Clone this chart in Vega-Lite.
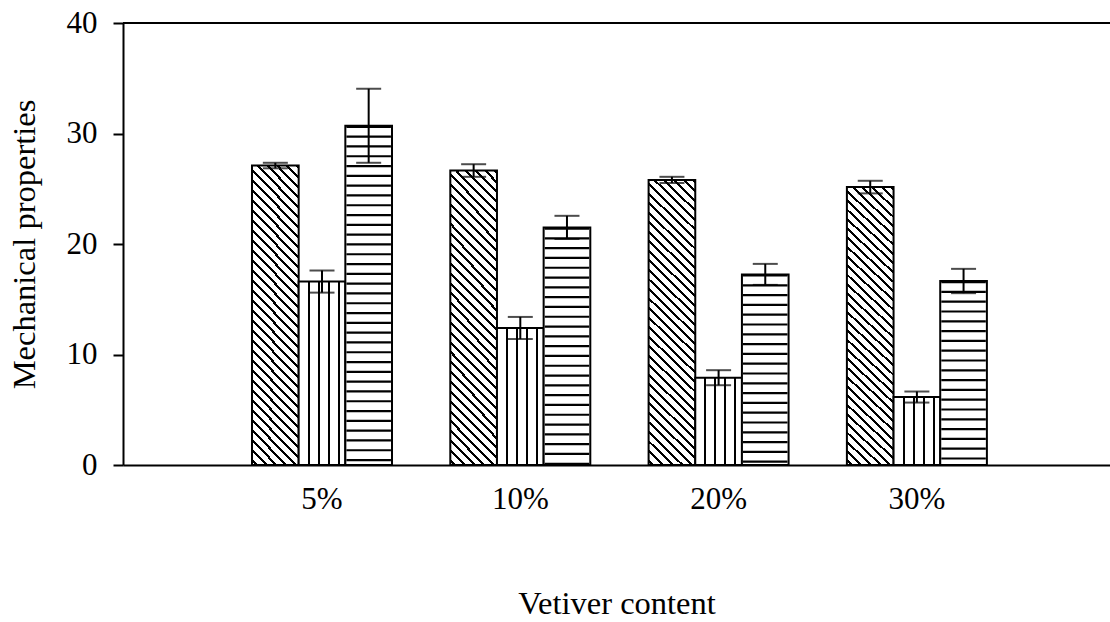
{
  "$schema": "https://vega.github.io/schema/vega-lite/v6.json",
  "width": 987,
  "height": 442,
  "autosize": {"type": "none"},
  "padding": {"left": 123, "top": 23, "right": 0, "bottom": 157},
  "background": "white",
  "config": {"view": {"stroke": null}, "font": "Liberation Serif"},
  "layer": [
    {
      "data": {
        "values": [
          {"content": "5%", "series": "s1", "value": 27.1, "lo": 26.85, "hi": 27.35},
          {"content": "5%", "series": "s2", "value": 16.6, "lo": 15.6, "hi": 17.6},
          {"content": "5%", "series": "s3", "value": 30.7, "lo": 27.35, "hi": 34.05},
          {"content": "10%", "series": "s1", "value": 26.65, "lo": 26.08, "hi": 27.22},
          {"content": "10%", "series": "s2", "value": 12.4, "lo": 11.4, "hi": 13.4},
          {"content": "10%", "series": "s3", "value": 21.5, "lo": 20.45, "hi": 22.55},
          {"content": "20%", "series": "s1", "value": 25.8, "lo": 25.52, "hi": 26.08},
          {"content": "20%", "series": "s2", "value": 7.9, "lo": 7.22, "hi": 8.58},
          {"content": "20%", "series": "s3", "value": 17.25, "lo": 16.3, "hi": 18.2},
          {"content": "30%", "series": "s1", "value": 25.15, "lo": 24.58, "hi": 25.72},
          {"content": "30%", "series": "s2", "value": 6.15, "lo": 5.65, "hi": 6.65},
          {"content": "30%", "series": "s3", "value": 16.65, "lo": 15.55, "hi": 17.75}
        ]
      },
      "encoding": {
        "x": {
          "field": "content",
          "type": "nominal",
          "sort": ["5%", "10%", "20%", "30%"],
          "scale": {"paddingInner": 0.294, "paddingOuter": 0.6357, "align": 0.5117},
          "axis": {
            "title": "Vetiver content",
            "labelAngle": 0,
            "ticks": false,
            "tickSize": 0,
            "domainColor": "black",
            "domainWidth": 2,
            "labelFont": "Liberation Serif",
            "labelFontSize": 31,
            "labelColor": "black",
            "labelPadding": 19.5,
            "titleFont": "Liberation Serif",
            "titleFontSize": 32.5,
            "titleFontWeight": "normal",
            "titleColor": "black",
            "titlePadding": 73
          }
        },
        "xOffset": {
          "field": "series",
          "type": "nominal",
          "scale": {"domain": ["s1", "s2", "s3"], "paddingInner": 0, "paddingOuter": 0}
        }
      },
      "layer": [
        {
          "transform": [{"filter": "datum.series === 's1'"}],
          "mark": {
            "type": "bar",
            "stroke": "black",
            "strokeWidth": 2,
            "fill": {
              "gradient": "linear",
              "x1": 0, "y1": 1, "x2": 0.1821, "y2": -0.1316,
              "stops": [
                {"offset": 0, "color": "#fff"},
                {"offset": 0.0100, "color": "#fff"}, {"offset": 0.0100, "color": "#000"}, {"offset": 0.0189, "color": "#000"}, {"offset": 0.0189, "color": "#fff"},
                {"offset": 0.0388, "color": "#fff"}, {"offset": 0.0388, "color": "#000"}, {"offset": 0.0477, "color": "#000"}, {"offset": 0.0477, "color": "#fff"},
                {"offset": 0.0676, "color": "#fff"}, {"offset": 0.0676, "color": "#000"}, {"offset": 0.0765, "color": "#000"}, {"offset": 0.0765, "color": "#fff"},
                {"offset": 0.0964, "color": "#fff"}, {"offset": 0.0964, "color": "#000"}, {"offset": 0.1053, "color": "#000"}, {"offset": 0.1053, "color": "#fff"},
                {"offset": 0.1252, "color": "#fff"}, {"offset": 0.1252, "color": "#000"}, {"offset": 0.1341, "color": "#000"}, {"offset": 0.1341, "color": "#fff"},
                {"offset": 0.1540, "color": "#fff"}, {"offset": 0.1540, "color": "#000"}, {"offset": 0.1629, "color": "#000"}, {"offset": 0.1629, "color": "#fff"},
                {"offset": 0.1828, "color": "#fff"}, {"offset": 0.1828, "color": "#000"}, {"offset": 0.1917, "color": "#000"}, {"offset": 0.1917, "color": "#fff"},
                {"offset": 0.2116, "color": "#fff"}, {"offset": 0.2116, "color": "#000"}, {"offset": 0.2205, "color": "#000"}, {"offset": 0.2205, "color": "#fff"},
                {"offset": 0.2404, "color": "#fff"}, {"offset": 0.2404, "color": "#000"}, {"offset": 0.2493, "color": "#000"}, {"offset": 0.2493, "color": "#fff"},
                {"offset": 0.2692, "color": "#fff"}, {"offset": 0.2692, "color": "#000"}, {"offset": 0.2781, "color": "#000"}, {"offset": 0.2781, "color": "#fff"},
                {"offset": 0.2980, "color": "#fff"}, {"offset": 0.2980, "color": "#000"}, {"offset": 0.3069, "color": "#000"}, {"offset": 0.3069, "color": "#fff"},
                {"offset": 0.3268, "color": "#fff"}, {"offset": 0.3268, "color": "#000"}, {"offset": 0.3357, "color": "#000"}, {"offset": 0.3357, "color": "#fff"},
                {"offset": 0.3556, "color": "#fff"}, {"offset": 0.3556, "color": "#000"}, {"offset": 0.3645, "color": "#000"}, {"offset": 0.3645, "color": "#fff"},
                {"offset": 0.3844, "color": "#fff"}, {"offset": 0.3844, "color": "#000"}, {"offset": 0.3933, "color": "#000"}, {"offset": 0.3933, "color": "#fff"},
                {"offset": 0.4132, "color": "#fff"}, {"offset": 0.4132, "color": "#000"}, {"offset": 0.4221, "color": "#000"}, {"offset": 0.4221, "color": "#fff"},
                {"offset": 0.4420, "color": "#fff"}, {"offset": 0.4420, "color": "#000"}, {"offset": 0.4509, "color": "#000"}, {"offset": 0.4509, "color": "#fff"},
                {"offset": 0.4708, "color": "#fff"}, {"offset": 0.4708, "color": "#000"}, {"offset": 0.4797, "color": "#000"}, {"offset": 0.4797, "color": "#fff"},
                {"offset": 0.4996, "color": "#fff"}, {"offset": 0.4996, "color": "#000"}, {"offset": 0.5085, "color": "#000"}, {"offset": 0.5085, "color": "#fff"},
                {"offset": 0.5284, "color": "#fff"}, {"offset": 0.5284, "color": "#000"}, {"offset": 0.5373, "color": "#000"}, {"offset": 0.5373, "color": "#fff"},
                {"offset": 0.5572, "color": "#fff"}, {"offset": 0.5572, "color": "#000"}, {"offset": 0.5661, "color": "#000"}, {"offset": 0.5661, "color": "#fff"},
                {"offset": 0.5860, "color": "#fff"}, {"offset": 0.5860, "color": "#000"}, {"offset": 0.5949, "color": "#000"}, {"offset": 0.5949, "color": "#fff"},
                {"offset": 0.6148, "color": "#fff"}, {"offset": 0.6148, "color": "#000"}, {"offset": 0.6237, "color": "#000"}, {"offset": 0.6237, "color": "#fff"},
                {"offset": 0.6436, "color": "#fff"}, {"offset": 0.6436, "color": "#000"}, {"offset": 0.6525, "color": "#000"}, {"offset": 0.6525, "color": "#fff"},
                {"offset": 0.6724, "color": "#fff"}, {"offset": 0.6724, "color": "#000"}, {"offset": 0.6813, "color": "#000"}, {"offset": 0.6813, "color": "#fff"},
                {"offset": 0.7012, "color": "#fff"}, {"offset": 0.7012, "color": "#000"}, {"offset": 0.7101, "color": "#000"}, {"offset": 0.7101, "color": "#fff"},
                {"offset": 0.7300, "color": "#fff"}, {"offset": 0.7300, "color": "#000"}, {"offset": 0.7389, "color": "#000"}, {"offset": 0.7389, "color": "#fff"},
                {"offset": 0.7588, "color": "#fff"}, {"offset": 0.7588, "color": "#000"}, {"offset": 0.7677, "color": "#000"}, {"offset": 0.7677, "color": "#fff"},
                {"offset": 0.7876, "color": "#fff"}, {"offset": 0.7876, "color": "#000"}, {"offset": 0.7965, "color": "#000"}, {"offset": 0.7965, "color": "#fff"},
                {"offset": 0.8164, "color": "#fff"}, {"offset": 0.8164, "color": "#000"}, {"offset": 0.8253, "color": "#000"}, {"offset": 0.8253, "color": "#fff"},
                {"offset": 0.8452, "color": "#fff"}, {"offset": 0.8452, "color": "#000"}, {"offset": 0.8541, "color": "#000"}, {"offset": 0.8541, "color": "#fff"},
                {"offset": 0.8740, "color": "#fff"}, {"offset": 0.8740, "color": "#000"}, {"offset": 0.8829, "color": "#000"}, {"offset": 0.8829, "color": "#fff"},
                {"offset": 0.9028, "color": "#fff"}, {"offset": 0.9028, "color": "#000"}, {"offset": 0.9117, "color": "#000"}, {"offset": 0.9117, "color": "#fff"},
                {"offset": 0.9316, "color": "#fff"}, {"offset": 0.9316, "color": "#000"}, {"offset": 0.9405, "color": "#000"}, {"offset": 0.9405, "color": "#fff"},
                {"offset": 0.9604, "color": "#fff"}, {"offset": 0.9604, "color": "#000"}, {"offset": 0.9693, "color": "#000"}, {"offset": 0.9693, "color": "#fff"},
                {"offset": 0.9892, "color": "#fff"}, {"offset": 0.9892, "color": "#000"}, {"offset": 0.9981, "color": "#000"}, {"offset": 0.9981, "color": "#fff"},
                {"offset": 1, "color": "#fff"}
              ]
            }
          },
          "encoding": {
            "y": {
              "field": "value",
              "type": "quantitative",
              "title": "Mechanical properties",
              "scale": {"domain": [0, 40], "nice": false, "zero": true},
              "axis": {
                "values": [0, 10, 20, 30, 40],
                "grid": false,
                "domainColor": "black",
                "domainWidth": 2,
                "tickColor": "black",
                "tickWidth": 2,
                "tickSize": 10,
                "labelFont": "Liberation Serif",
                "labelFontSize": 31,
                "labelColor": "black",
                "labelPadding": 16,
                "titleFont": "Liberation Serif",
                "titleFontSize": 32.5,
                "titleFontWeight": "normal",
                "titleColor": "black",
                "titlePadding": 25
              }
            }
          }
        },
        {
          "transform": [{"filter": "datum.series === 's2'"}],
          "mark": {
            "type": "bar",
            "stroke": "black",
            "strokeWidth": 2,
            "fill": {
              "gradient": "linear",
              "x1": 0, "y1": 0, "x2": 1, "y2": 0,
              "stops": [
                {"offset": 0, "color": "#fff"},
                {"offset": 0.193, "color": "#fff"}, {"offset": 0.193, "color": "#000"}, {"offset": 0.236, "color": "#000"}, {"offset": 0.236, "color": "#fff"},
                {"offset": 0.407, "color": "#fff"}, {"offset": 0.407, "color": "#000"}, {"offset": 0.450, "color": "#000"}, {"offset": 0.450, "color": "#fff"},
                {"offset": 0.621, "color": "#fff"}, {"offset": 0.621, "color": "#000"}, {"offset": 0.664, "color": "#000"}, {"offset": 0.664, "color": "#fff"},
                {"offset": 0.836, "color": "#fff"}, {"offset": 0.836, "color": "#000"}, {"offset": 0.879, "color": "#000"}, {"offset": 0.879, "color": "#fff"},
                {"offset": 1, "color": "#fff"}
              ]
            }
          },
          "encoding": {
            "y": {"field": "value", "type": "quantitative", "title": "Mechanical properties"}
          }
        },
        {
          "transform": [{"filter": "datum.series === 's3'"}],
          "mark": {"type": "bar", "stroke": "black", "strokeWidth": 2, "fill": "white"},
          "encoding": {
            "y": {"field": "value", "type": "quantitative", "title": "Mechanical properties"}
          }
        },
        {
          "transform": [{"filter": "datum.series === 's3'"}],
          "mark": {
            "type": "rule",
            "stroke": "black",
            "strokeWidth": 44.5,
            "strokeCap": "butt",
            "strokeDash": [2.2, 7.6],
            "strokeDashOffset": 0
          },
          "encoding": {
            "y": {"field": "value", "type": "quantitative", "title": "Mechanical properties"},
            "y2": {"datum": 0}
          }
        },
        {
          "mark": {"type": "rule", "stroke": "black", "strokeWidth": 2},
          "encoding": {
            "y": {"field": "lo", "type": "quantitative", "title": "Mechanical properties"},
            "y2": {"field": "hi"}
          }
        },
        {
          "mark": {"type": "tick", "orient": "horizontal", "size": 25, "thickness": 2, "color": "black"},
          "encoding": {
            "y": {"field": "lo", "type": "quantitative", "title": "Mechanical properties"}
          }
        },
        {
          "mark": {"type": "tick", "orient": "horizontal", "size": 25, "thickness": 2, "color": "black"},
          "encoding": {
            "y": {"field": "hi", "type": "quantitative", "title": "Mechanical properties"}
          }
        }
      ]
    },
    {
      "data": {"values": [{}]},
      "mark": {"type": "rule", "stroke": "black", "strokeWidth": 2},
      "encoding": {"y": {"datum": 40, "type": "quantitative"}}
    }
  ]
}
